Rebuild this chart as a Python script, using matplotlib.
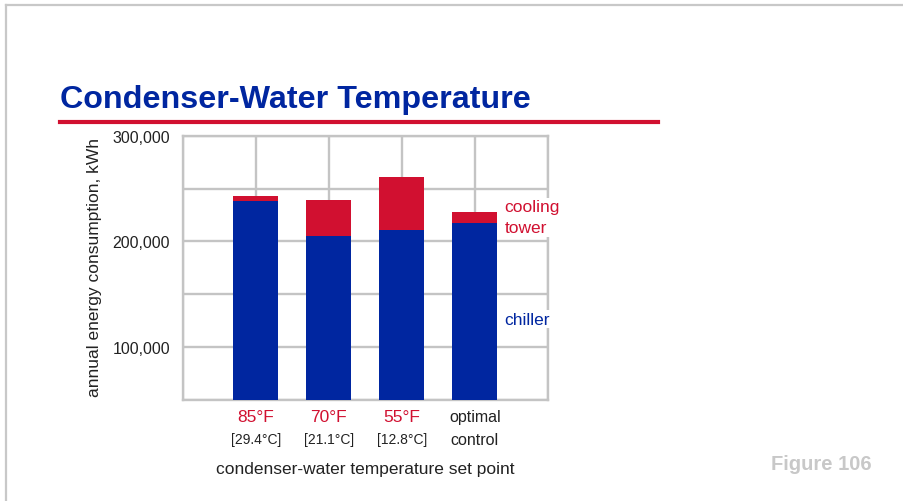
import matplotlib.pyplot as plt
import matplotlib.transforms as mtransforms
from matplotlib.lines import Line2D

# Annual energy use for each condenser-water set point (kWh)
setpoints_f = ["85°F", "70°F", "55°F"]
setpoints_c = ["[29.4°C]", "[21.1°C]", "[12.8°C]"]
chiller_kwh = [238000, 205000, 211000, 217000]
tower_kwh = [5000, 34000, 50000, 11000]
y_ticks = [100000, 200000, 300000]

blue = "#0026a0"
red = "#d11030"
grid_gray = "#c4c4c4"
sans = ["Liberation Sans", "DejaVu Sans"]
plt.rcParams["font.family"] = sans

fig = plt.figure(figsize=(9.04, 5.02), dpi=100)

# page frame: thin gray rule along the top and left edges
fig.add_artist(Line2D([6 / 904, 1], [1 - 6 / 502, 1 - 6 / 502], color="#c8c8c8", lw=1.6))
fig.add_artist(Line2D([6 / 904, 6 / 904], [0, 1 - 6 / 502], color="#c8c8c8", lw=1.6))

# heading with red underline
fig.text(60 / 904, 1 - 108 / 502, "Condenser-Water Temperature",
         weight="bold", fontsize=23.2, color=blue, ha="left", va="baseline")
fig.add_artist(Line2D([60 / 904, 658 / 904], [1 - 123 / 502, 1 - 123 / 502], color=red, lw=3))

ax = fig.add_axes([182.7 / 904, 101 / 502, 365 / 904, 264.3 / 502])
x = list(range(len(chiller_kwh)))
ax.bar(x, chiller_kwh, width=0.62, color=blue, zorder=3)
ax.bar(x, tower_kwh, width=0.62, bottom=chiller_kwh, color=red, zorder=3)

ax.set_xlim(-1, 4)
ax.set_ylim(50000, 300000)
ax.set_xticks(range(-1, 5))
ax.set_xticklabels([])
ax.set_yticks(range(50000, 300001, 50000))
ax.set_yticklabels([f"{v:,}" if v in y_ticks else "" for v in range(50000, 300001, 50000)],
                   fontsize=11.5, color="#222222")
ax.tick_params(length=0, pad=9)
ax.grid(True, color=grid_gray, lw=1.7, zorder=0)
for s in ax.spines.values():
    s.set_color(grid_gray)
    s.set_linewidth(1.7)

fig.text(95 / 904, 1 - 267.5 / 502, "annual energy consumption, kWh", rotation=90,
         ha="center", va="center", fontsize=12.5, color="#222222")

# category labels under each bar
tr = mtransforms.blended_transform_factory(ax.transData, ax.transAxes)
for i, (f, c) in enumerate(zip(setpoints_f, setpoints_c)):
    ax.text(i, -0.062, f, transform=tr, ha="center", va="center", fontsize=12.5, color=red)
    ax.text(i, -0.148, c, transform=tr, ha="center", va="center", fontsize=10, color="#222222")
ax.text(3, -0.062, "optimal", transform=tr, ha="center", va="center", fontsize=11.5,
        color="#222222")
ax.text(3, -0.148, "control", transform=tr, ha="center", va="center", fontsize=11.5,
        color="#222222")
ax.text(0.5, -0.258, "condenser-water temperature set point", transform=ax.transAxes,
        ha="center", va="center", fontsize=12.5, color="#222222")

# series labels beside the last bar
ax.text(3.41, 222700, "cooling\ntower", ha="left", va="center", fontsize=12.5,
        color=red, linespacing=1.5, zorder=5,
        bbox=dict(facecolor="white", edgecolor="none", pad=1))
ax.text(3.41, 126600, "chiller", ha="left", va="center", fontsize=12.5,
        color=blue, zorder=5, bbox=dict(facecolor="white", edgecolor="none", pad=1))

fig.text(872 / 904, 1 - 465 / 502, "Figure 106", weight="bold",
         fontsize=14.5, color="#c8c8c8", ha="right", va="center")

fig.savefig("out.png", dpi=100)
